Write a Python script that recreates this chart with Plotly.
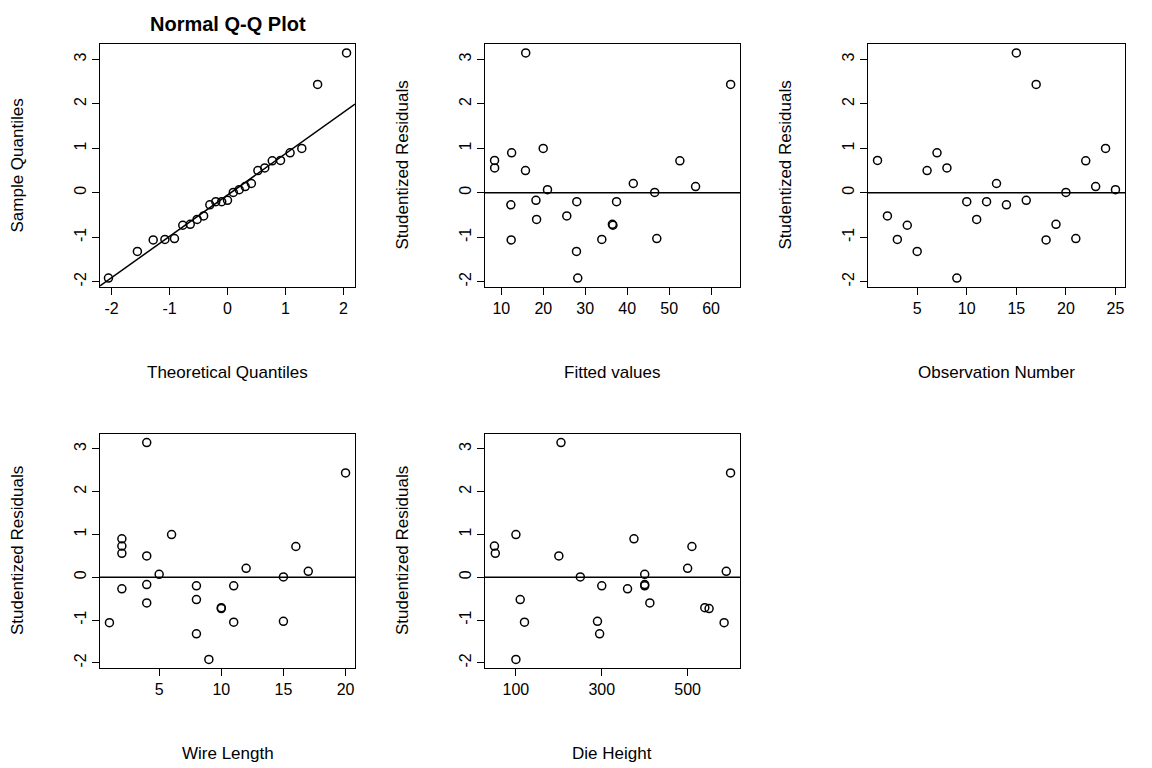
import plotly.graph_objects as go

# wire bond data: residual diagnostics
obs = list(range(1, 26))
wire_length = [2, 8, 11, 10, 8, 4, 2, 2, 9, 8, 4, 11, 12, 2, 4, 4, 20, 1, 10, 15, 15, 16, 17, 6, 5]
die_height = [50, 110, 120, 550, 295, 200, 375, 52, 100, 300, 412, 400, 500, 360, 205, 400, 600, 585, 540, 250, 290, 510, 590, 100, 400]
fitted = [8.38, 25.60, 33.95, 36.60, 27.91, 15.75, 12.45, 8.40, 28.22, 27.98, 18.40, 37.46, 41.46,
          12.26, 15.81, 18.25, 64.67, 12.34, 36.47, 46.56, 47.06, 52.56, 56.31, 19.98, 21.00]
stud_resid = [0.73, -0.52, -1.05, -0.73, -1.32, 0.50, 0.90, 0.56, -1.92, -0.20, -0.60, -0.20, 0.21,
              -0.27, 3.15, -0.17, 2.44, -1.06, -0.71, 0.01, -1.03, 0.72, 0.14, 1.00, 0.07]
theo_q = [-2.054, -1.555, -1.282, -1.080, -0.915, -0.772, -0.643, -0.524, -0.412, -0.305, -0.202, -0.100, 0.0,
          0.100, 0.202, 0.305, 0.412, 0.524, 0.643, 0.772, 0.915, 1.080, 1.282, 1.555, 2.054]
sample_q = sorted(stud_resid)
qq_intercept, qq_slope = -0.05, 0.93
y_ticks = [-2, -1, 0, 1, 2, 3]

FONT = "Liberation Sans"
W, H = 1152, 768
OFF = 8  # page body margin


def xdom(a, b):
    return [(a - OFF) / W, (b - OFF) / W]


def ydom(top, bot):
    return [1 - (bot - OFF) / H, 1 - (top - OFF) / H]


def labels(vals):
    return [str(v) for v in vals]


fig = go.Figure()

panels = [
    (theo_q, sample_q, xdom(100, 355), ydom(44, 287), [-2.2, 2.2], [-2, -1, 0, 1, 2], "Theoretical Quantiles", "Sample Quantiles", False),
    (fitted, stud_resid, xdom(485, 740), ydom(44, 287), [6.1, 66.9], [10, 20, 30, 40, 50, 60], "Fitted values", "Studentized Residuals", True),
    (obs, stud_resid, xdom(868, 1125), ydom(44, 287), [0.04, 25.96], [5, 10, 15, 20, 25], "Observation Number", "Studentized Residuals", True),
    (wire_length, stud_resid, xdom(100, 355), ydom(434, 668), [0.24, 20.76], [5, 10, 15, 20], "Wire Length", "Studentized Residuals", True),
    (die_height, stud_resid, xdom(485, 740), ydom(434, 668), [28, 622], [100, 300, 500], "Die Height", "Studentized Residuals", True),
]

yr = [-2.12, 3.35]
for i, (xs, ys, xd, yd, xr, xt, xtitle, ytitle, zero) in enumerate(panels):
    n = "" if i == 0 else str(i + 1)
    fig.add_trace(go.Scatter(x=xs, y=ys, mode="markers", xaxis="x" + n, yaxis="y" + n,
                             marker=dict(symbol="circle-open", size=8, color="black", line=dict(width=1.5)),
                             showlegend=False))
    if zero:
        fig.add_trace(go.Scatter(x=xr, y=[0, 0], mode="lines", xaxis="x" + n, yaxis="y" + n,
                                 line=dict(color="black", width=1.5), showlegend=False))
    else:
        fig.add_trace(go.Scatter(x=xr, y=[qq_intercept + qq_slope * v for v in xr], mode="lines",
                                 xaxis="x" + n, yaxis="y" + n,
                                 line=dict(color="black", width=1.5), showlegend=False))
    common = dict(showline=True, mirror=True, linecolor="black", linewidth=1.2, showgrid=False,
                  zeroline=False, ticks="outside", ticklen=7, tickcolor="black",
                  tickfont=dict(family=FONT, size=16, color="black"))
    fig.update_layout(**{
        "xaxis" + n: dict(domain=xd, range=xr, tickvals=xt, ticktext=labels(xt), anchor="y" + n, **common),
        "yaxis" + n: dict(domain=yd, range=yr, tickvals=y_ticks, ticktext=labels(y_ticks), tickangle=-90,
                          anchor="x" + n, **common),
    })
    xc = (xd[0] + xd[1]) / 2
    fig.add_annotation(text=xtitle, x=xc, y=yd[0] - 85 / H, xref="paper", yref="paper",
                       xanchor="center", yanchor="middle",
                       showarrow=False, font=dict(family=FONT, size=17, color="black"))
    fig.add_annotation(text=ytitle, x=xd[0] - 83 / W, y=(yd[0] + yd[1]) / 2, xref="paper", yref="paper",
                       xanchor="center", yanchor="middle",
                       showarrow=False, textangle=-90, font=dict(family=FONT, size=17, color="black"))

fig.add_annotation(text="<b>Normal Q-Q Plot</b>", x=(panels[0][2][0] + panels[0][2][1]) / 2, y=1 - (24 - OFF) / H,
                   xref="paper", yref="paper", xanchor="center", yanchor="middle",
                   showarrow=False, font=dict(family=FONT, size=20, color="black"))

fig.update_layout(width=W, height=H, margin=dict(l=0, r=0, t=0, b=0),
                  plot_bgcolor="white", paper_bgcolor="white")
fig.write_html("out.html")
